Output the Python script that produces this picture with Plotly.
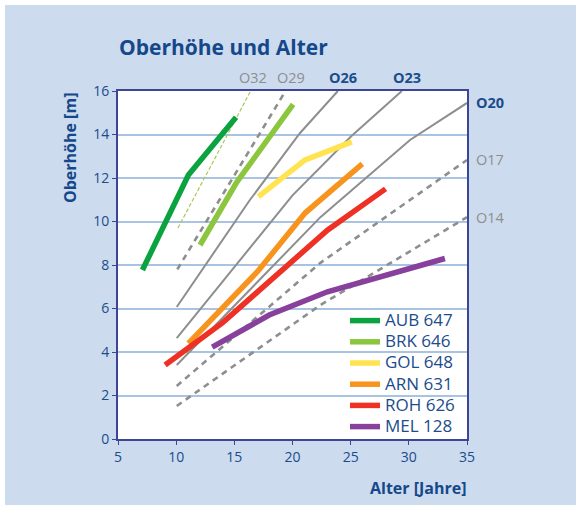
import plotly.graph_objects as go

# ---- stand data (age in years, top height in m) ----
stand_names = ["AUB 647", "BRK 646", "GOL 648", "ARN 631", "ROH 626", "MEL 128"]
aub_age = [7.1, 11.05, 15.15]
aub_h = [7.77, 12.14, 14.79]
brk_age = [12.05, 15.2, 20.05]
brk_h = [8.92, 11.8, 15.38]
gol_age = [17.07, 21.08, 25.1]
gol_h = [11.14, 12.83, 13.66]
arn_age = [11.05, 17.0, 21.1, 26.0]
arn_h = [4.4, 7.7, 10.4, 12.65]
roh_age = [9.05, 14.0, 23.0, 28.0]
roh_h = [3.4, 5.35, 9.6, 11.5]
mel_age = [13.1, 18.0, 23.0, 33.1]
mel_h = [4.22, 5.7, 6.77, 8.3]
stand_colors = ["#0aa33f", "#8cc63e", "#ffe34f", "#f7941d", "#ee3124", "#87409b"]

# ---- site-index reference curves (O32 ... O14) ----
ref_names = ["O32", "O29", "O26", "O23", "O20", "O17", "O14"]
o32_age = [10.15, 16.4]
o32_h = [9.7, 16.0]
o29_age = [10.1, 17.2, 19.4]
o29_h = [7.8, 14.05, 16.0]
o26_age = [10.05, 16.35, 20.65, 23.9]
o26_h = [6.07, 11.0, 14.07, 16.0]
o23_age = [10.05, 20.0, 25.0, 29.4]
o23_h = [4.64, 11.2, 13.9, 16.0]
o20_age = [10.05, 22.4, 30.1, 35.0]
o20_h = [3.4, 10.2, 13.75, 15.45]
o17_age = [10.05, 22.4, 35.0]
o17_h = [2.44, 8.1, 12.83]
o14_age = [10.05, 22.4, 35.0]
o14_h = [1.52, 6.16, 10.2]

x_ticks = [5, 10, 15, 20, 25, 30, 35]
y_ticks = [0, 2, 4, 6, 8, 10, 12, 14, 16]

BLUE = "#1b4c8c"
AXIS = "#3d4597"
GREY = "#8e8e8e"
FONT = "Open Sans"

fig = go.Figure()

ref_data = [
    (o32_age, o32_h, "#a9c95c", 1.2, "4px,2px"),
    (o29_age, o29_h, GREY, 2.6, "6px,5px"),
    (o26_age, o26_h, GREY, 2.0, "solid"),
    (o23_age, o23_h, GREY, 2.0, "solid"),
    (o20_age, o20_h, GREY, 2.0, "solid"),
    (o17_age, o17_h, GREY, 2.6, "6px,5px"),
    (o14_age, o14_h, GREY, 2.6, "6px,5px"),
]
for (xa, ya, c, w, d), nm in zip(ref_data, ref_names):
    fig.add_trace(go.Scatter(x=xa, y=ya, mode="lines", name=nm, showlegend=False,
                             line=dict(color=c, width=w, dash=d), hoverinfo="skip"))

stands = [(aub_age, aub_h), (brk_age, brk_h), (gol_age, gol_h),
          (arn_age, arn_h), (roh_age, roh_h), (mel_age, mel_h)]
for (xa, ya), nm, c in zip(stands, stand_names, stand_colors):
    fig.add_trace(go.Scatter(x=xa, y=ya, mode="lines",
                             name=f"<span style='font-size:17px'>{nm}</span>",
                             line=dict(color=c, width=5.5)))

W, H = 579, 506
L, R, T, B = 118, 112, 91, 67
pw, ph = W - L - R, H - T - B


def px_x(p):
    return (p - L) / pw


def px_y(p):
    return (H - B - p) / ph


shapes = [
    dict(type="rect", xref="paper", yref="paper", layer="below",
         x0=px_x(5), x1=px_x(576), y0=px_y(505), y1=px_y(5),
         fillcolor="#ccdbee", line=dict(width=0)),
    dict(type="rect", xref="paper", yref="paper", layer="below",
         x0=0, x1=1, y0=0, y1=1, fillcolor="white", line=dict(width=0)),
]

ann = []
ann.append(dict(text="<b>Oberhöhe und Alter</b>", xref="paper", yref="paper",
                x=px_x(117), y=px_y(47), xanchor="left", yanchor="middle",
                showarrow=False, font=dict(family=FONT, size=21, color="#15488a")))
ann.append(dict(text="<b>Oberhöhe [m]</b>", xref="paper", yref="paper",
                x=px_x(70), y=px_y(148), xanchor="center", yanchor="middle",
                textangle=-90, showarrow=False,
                font=dict(family=FONT, size=16, color="#15488a")))
ann.append(dict(text="<b>Alter [Jahre]</b>", xref="paper", yref="paper",
                x=px_x(469), y=px_y(488), xanchor="right", yanchor="middle",
                showarrow=False, font=dict(family=FONT, size=16, color="#15488a")))

top_labels = [("O32", 16.6, False), ("O29", 19.9, False), ("O26", 24.35, True), ("O23", 29.8, True)]
for t, xv, bold in top_labels:
    ann.append(dict(text=f"<b>{t}</b>" if bold else t, xref="x", yref="paper",
                    x=xv, y=px_y(77), xanchor="center", yanchor="middle", showarrow=False,
                    font=dict(family=FONT, size=14.5, color=BLUE if bold else GREY)))
right_labels = [("O20", o20_h[-1], True), ("O17", o17_h[-1], False), ("O14", o14_h[-1], False)]
for t, yv, bold in right_labels:
    ann.append(dict(text=f"<b>{t}</b>" if bold else t, xref="paper", yref="y",
                    x=px_x(474), y=yv, xanchor="left", yanchor="middle", showarrow=False,
                    font=dict(family=FONT, size=14.5, color=BLUE if bold else GREY)))

fig.update_layout(
    width=W, height=H,
    margin=dict(l=L, r=R, t=T, b=B, pad=0),
    paper_bgcolor="white", plot_bgcolor="white",
    font=dict(family=FONT, color=BLUE),
    shapes=shapes, annotations=ann,
    showlegend=True,
    legend=dict(x=px_x(345), y=px_y(305), xanchor="left", yanchor="top",
                bgcolor="rgba(0,0,0,0)", borderwidth=0,
                font=dict(family=FONT, size=14, color=BLUE),
                tracegroupgap=0, itemwidth=30),
    xaxis=dict(range=[5, 35], tickvals=x_ticks, ticktext=[str(v) for v in x_ticks],
               showgrid=False, zeroline=False, showline=True, linecolor=AXIS,
               linewidth=2, mirror=True, ticks="outside", ticklen=4, tickcolor=AXIS,
               tickfont=dict(family=FONT, size=14, color=BLUE)),
    yaxis=dict(range=[0, 16], tickvals=y_ticks, ticktext=[str(v) for v in y_ticks],
               showgrid=True, gridcolor="#a9c3e3", gridwidth=1.5, zeroline=False,
               showline=True, linecolor=AXIS, linewidth=2, mirror=True,
               ticks="outside", ticklen=4, tickcolor=AXIS,
               tickfont=dict(family=FONT, size=14, color=BLUE)),
)

fig.write_html("out.html", config={"displayModeBar": False},
               post_script="document.body.style.margin='0px';document.body.style.overflow='hidden';")
